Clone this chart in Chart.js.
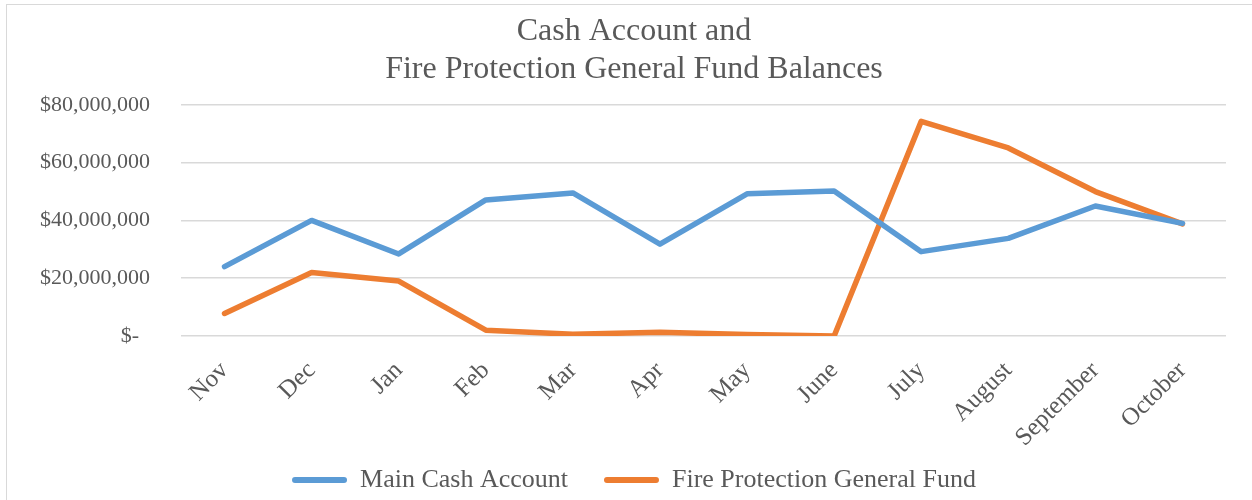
<!DOCTYPE html>
<html>
<head>
<meta charset="utf-8">
<script src="https://cdn.jsdelivr.net/npm/chart.js@4.4.1/dist/chart.umd.min.js"></script>
<style>
  html, body { margin: 0; padding: 0; background: #fff; }
  #wrap { position: relative; width: 1252px; height: 500px; }
  #frame { position: absolute; left: 6px; top: 4px; width: 1260px; height: 520px; border: 1px solid #d9d9d9; pointer-events: none; }
</style>
</head>
<body>
<div id="wrap">
  <canvas id="c" width="1252" height="500"></canvas>
  <div id="frame"></div>
</div>
<script>
const months = ["Nov","Dec","Jan","Feb","Mar","Apr","May","June","July","August","September","October"];
const mainCash = [24000000, 40000000, 28400000, 47100000, 49500000, 31800000, 49200000, 50200000, 29200000, 33800000, 45000000, 39000000];
const fireFund = [7800000, 22000000, 19000000, 2000000, 600000, 1300000, 500000, 0, 74300000, 65100000, 50000000, 38800000];
const yTickValues = [0, 20000000, 40000000, 60000000, 80000000];
const yTickLabels = ["$-  ", "$20,000,000", "$40,000,000", "$60,000,000", "$80,000,000"];
const titleLines = ["Cash Account and", "Fire Protection General Fund Balances"];
const seriesNames = ["Main Cash Account", "Fire Protection General Fund"];

const FONT = "'Liberation Serif', 'Times New Roman', serif";
const TXT = "#595959";

const shiftBoxes = {
  id: 'shiftBoxes',
  afterLayout(chart) {
    if (chart.titleBlock) chart.titleBlock.left = 42;
    if (chart.legend) {
      chart.legend.left = 42;
      chart.legend.top += 3;
      chart.legend.bottom += 3;
    }
  }
};

new Chart(document.getElementById('c'), {
  type: 'line',
  data: {
    labels: months,
    datasets: [
      { label: seriesNames[0], data: mainCash, borderColor: '#5B9BD5', backgroundColor: '#5B9BD5',
        borderWidth: 5.5, pointRadius: 0, borderJoinStyle: 'round', borderCapStyle: 'round', tension: 0, fill: false },
      { label: seriesNames[1], data: fireFund, borderColor: '#ED7D31', backgroundColor: '#ED7D31',
        borderWidth: 5.5, pointRadius: 0, borderJoinStyle: 'round', borderCapStyle: 'round', tension: 0, fill: false }
    ]
  },
  plugins: [shiftBoxes],
  options: {
    responsive: false,
    animation: false,
    layout: { padding: { left: 0, right: 26, top: 13, bottom: 0 } },
    plugins: {
      tooltip: { enabled: false },
      title: {
        display: true, text: titleLines, color: TXT,
        font: { family: FONT, size: 32, weight: 'normal', lineHeight: 1.17 },
        padding: { top: 0, bottom: 17 }
      },
      legend: {
        position: 'bottom',
        labels: {
          color: TXT, font: { family: FONT, size: 26 },
          boxWidth: 55, boxHeight: 6, useBorderRadius: true, borderRadius: 3, padding: 10,
          generateLabels: (chart) => {
            const items = Chart.defaults.plugins.legend.labels.generateLabels(chart);
            items.forEach((it, i) => {
              it.lineWidth = 0; it.strokeStyle = 'transparent';
              if (i < items.length - 1) it.text = it.text + '    ';
            });
            return items;
          }
        }
      }
    },
    scales: {
      x: {
        offset: true,
        grid: { display: false, drawTicks: false },
        border: { display: false },
        ticks: { color: TXT, font: { family: FONT, size: 25 }, minRotation: 45, maxRotation: 45, padding: 20, labelOffset: 0, autoSkip: false },
        afterFit: (s) => { s.height = 118; }
      },
      y: {
        min: 0, max: 80000000,
        grid: { color: '#d9d9d9', lineWidth: 1.5, drawTicks: false },
        border: { display: false },
        afterFit: (s) => { s.width = 181; },
        afterBuildTicks: (s) => { s.ticks = yTickValues.map(v => ({ value: v })); },
        ticks: {
          color: TXT, font: { family: FONT, size: 22 }, padding: 31,
          callback: (v) => { const i = yTickValues.indexOf(v); return i >= 0 ? yTickLabels[i] : ''; }
        }
      }
    }
  }
});
</script>
</body>
</html>
